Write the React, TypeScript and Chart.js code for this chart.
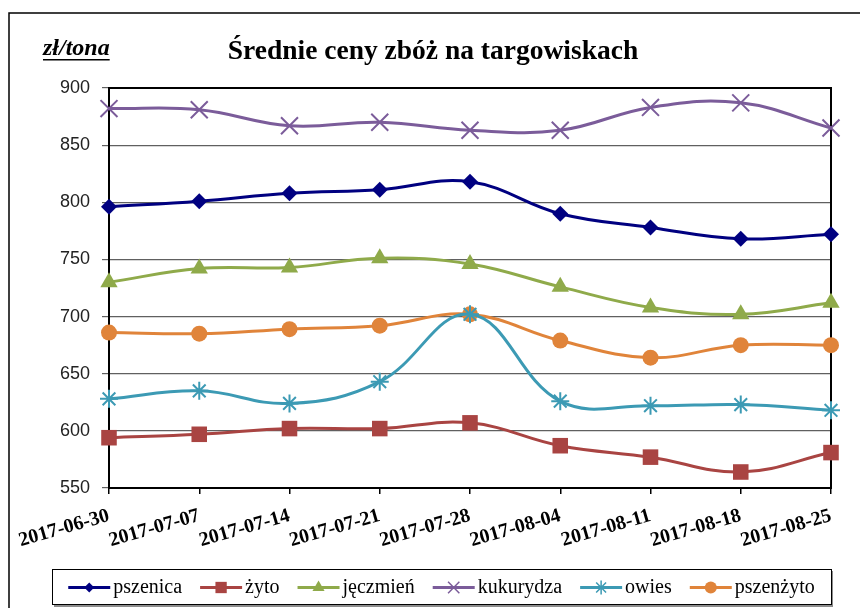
import React, { useEffect, useRef } from "react";
import { Chart, registerables } from "chart.js";

Chart.register(...registerables);

const TITLE = "Średnie ceny zbóż na targowiskach";
const UNIT = "zł/tona";

const dates = [
  "2017-06-30",
  "2017-07-07",
  "2017-07-14",
  "2017-07-21",
  "2017-07-28",
  "2017-08-04",
  "2017-08-11",
  "2017-08-18",
  "2017-08-25",
];

const pszenica = [796, 801, 808, 811, 818, 790, 778, 768, 772];
const zyto = [594, 597, 602, 602, 607, 587, 577, 564, 581];
const jeczmien = [730, 742, 743, 751, 746, 726, 708, 702, 712];
const kukurydza = [882, 881, 867, 870, 863, 863, 883, 887, 865];
const owies = [628, 635, 624, 643, 702, 626, 622, 623, 618];
const pszenzyto = [686, 685, 689, 692, 702, 679, 664, 675, 675];

const seriesNames = ["pszenica", "żyto", "jęczmień", "kukurydza", "owies", "pszenżyto"];
const seriesValues = [pszenica, zyto, jeczmien, kukurydza, owies, pszenzyto];

const Y_MIN = 550;
const Y_MAX = 900;
const Y_STEP = 50;

const SERIF = '"Liberation Serif", "Times New Roman", serif';
const SANS = '"Liberation Sans", Arial, sans-serif';

const styles = [
  { color: "#000080", point: "rectRot", radius: 8, lr: 5 },
  { color: "#A94442", point: "rect", radius: 11, lr: 8 },
  { color: "#8FAA4A", point: "triangle", radius: 10, lr: 7 },
  { color: "#7B5C9A", point: "crossRot", radius: 12, lr: 8 },
  { color: "#3C9AB4", point: "star", radius: 9, lr: 7 },
  { color: "#E0843A", point: "circle", radius: 8, lr: 6 },
];

function drawMarker(ctx: CanvasRenderingContext2D, kind: string, x: number, y: number, r: number, color: string) {
  ctx.save();
  ctx.fillStyle = color;
  ctx.strokeStyle = color;
  ctx.lineWidth = 1.5;
  ctx.beginPath();
  if (kind === "rectRot") {
    ctx.moveTo(x, y - r);
    ctx.lineTo(x + r, y);
    ctx.lineTo(x, y + r);
    ctx.lineTo(x - r, y);
    ctx.closePath();
    ctx.fill();
  } else if (kind === "rect") {
    const s = r * Math.SQRT1_2;
    ctx.rect(x - s, y - s, 2 * s, 2 * s);
    ctx.fill();
  } else if (kind === "triangle") {
    for (let i = 0; i < 3; i++) {
      const a = (i * 2 * Math.PI) / 3;
      const px = x + Math.sin(a) * r;
      const py = y - Math.cos(a) * r;
      if (i === 0) ctx.moveTo(px, py);
      else ctx.lineTo(px, py);
    }
    ctx.closePath();
    ctx.fill();
  } else if (kind === "crossRot" || kind === "star") {
    const d = r * Math.SQRT1_2;
    ctx.moveTo(x - d, y - d);
    ctx.lineTo(x + d, y + d);
    ctx.moveTo(x - d, y + d);
    ctx.lineTo(x + d, y - d);
    if (kind === "star") {
      ctx.moveTo(x, y - r);
      ctx.lineTo(x, y + r);
      ctx.moveTo(x - r, y);
      ctx.lineTo(x + r, y);
    }
    ctx.stroke();
  } else {
    ctx.arc(x, y, r, 0, Math.PI * 2);
    ctx.fill();
  }
  ctx.restore();
}

const decorPlugin = {
  id: "decor",
  beforeDatasetsDraw(chart: any) {
    const { ctx, chartArea } = chart;
    ctx.save();
    ctx.strokeStyle = "#000";
    ctx.lineWidth = 2;
    ctx.strokeRect(chartArea.left, chartArea.top, chartArea.right - chartArea.left, chartArea.bottom - chartArea.top);
    ctx.restore();
  },
  afterDraw(chart: any) {
    const ctx: CanvasRenderingContext2D = chart.ctx;
    ctx.save();
    // outer frame
    ctx.strokeStyle = "#000";
    ctx.lineWidth = 1.5;
    ctx.beginPath();
    ctx.moveTo(9, 608);
    ctx.lineTo(9, 13);
    ctx.lineTo(860, 13);
    ctx.stroke();

    // title
    ctx.fillStyle = "#000";
    ctx.font = `bold 27.5px ${SERIF}`;
    ctx.textAlign = "center";
    ctx.textBaseline = "alphabetic";
    ctx.fillText(TITLE, 433, 59);

    // unit
    ctx.font = `italic bold 24px ${SERIF}`;
    ctx.textAlign = "left";
    ctx.fillText(UNIT, 43, 55);
    const uw = ctx.measureText(UNIT).width;
    ctx.fillRect(43, 59, uw, 1.5);

    // legend
    const boxL = 52, boxT = 569, boxR = 831, boxB = 604;
    ctx.fillStyle = "#8c8c8c";
    ctx.fillRect(boxL + 2, boxB, boxR - boxL, 3);
    ctx.fillRect(boxR, boxT + 2, 2, boxB - boxT);
    ctx.fillStyle = "#fff";
    ctx.fillRect(boxL, boxT, boxR - boxL, boxB - boxT);
    ctx.strokeStyle = "#000";
    ctx.lineWidth = 1;
    ctx.strokeRect(boxL + 0.5, boxT + 0.5, boxR - boxL, boxB - boxT);

    ctx.font = `20px ${SERIF}`;
    const lineLen = 42, textGap = 3, itemGap = 18;
    const widths = seriesNames.map((n) => ctx.measureText(n).width);
    const total = widths.reduce((a, w) => a + w + lineLen + textGap, 0) + itemGap * (seriesNames.length - 1);
    let x = boxL + (boxR - boxL - total) / 2;
    const cy = (boxT + boxB) / 2 + 1;
    seriesNames.forEach((name, i) => {
      const st = styles[i];
      ctx.strokeStyle = st.color;
      ctx.lineWidth = 3;
      ctx.beginPath();
      ctx.moveTo(x, cy);
      ctx.lineTo(x + lineLen, cy);
      ctx.stroke();
      drawMarker(ctx, st.point, x + lineLen / 2, cy, st.lr, st.color);
      ctx.fillStyle = "#000";
      ctx.textAlign = "left";
      ctx.textBaseline = "middle";
      ctx.fillText(name, x + lineLen + textGap, cy);
      x += lineLen + textGap + widths[i] + itemGap;
    });
    ctx.restore();
  },
};

export default function App() {
  const ref = useRef<HTMLCanvasElement | null>(null);

  useEffect(() => {
    if (!ref.current) return;
    const chart = new Chart(ref.current, {
      type: "line",
      data: {
        labels: dates,
        datasets: seriesNames.map((name, i) => ({
          label: name,
          data: seriesValues[i],
          borderColor: styles[i].color,
          backgroundColor: styles[i].color,
          borderWidth: 3,
          tension: 0.4,
          fill: false,
          pointStyle: styles[i].point as any,
          pointRadius: styles[i].radius,
          pointBorderWidth: styles[i].point === "crossRot" || styles[i].point === "star" ? 2 : 0,
          pointBorderColor: styles[i].color,
          pointBackgroundColor: styles[i].color,
        })),
      },
      options: {
        responsive: false,
        animation: false,
        layout: { padding: { left: 0, top: 88, right: 29, bottom: 0 } },
        plugins: {
          legend: { display: false },
          title: { display: false },
          tooltip: { enabled: false },
        },
        scales: {
          x: {
            offset: false,
            afterFit: (s: any) => {
              s.height = 120;
            },
            grid: {
              drawOnChartArea: false,
              tickLength: 6,
              color: "#000",
              lineWidth: 1.5,
            },
            border: { display: true, color: "#000", width: 2 },
            ticks: {
              autoSkip: false,
              minRotation: 16,
              maxRotation: 16,
              padding: 10,
              color: "#000",
              font: { family: SERIF, size: 20, weight: "bold" },
            },
          },
          y: {
            min: Y_MIN,
            max: Y_MAX,
            afterFit: (s: any) => {
              s.width = 109;
            },
            grid: {
              color: "#606060",
              lineWidth: 1.2,
              tickLength: 7,
            },
            border: { display: true, color: "#000", width: 2 },
            ticks: {
              stepSize: Y_STEP,
              padding: 12,
              color: "#222",
              font: { family: SANS, size: 18 },
            },
          },
        },
      },
      plugins: [decorPlugin],
    });
    return () => chart.destroy();
  }, []);

  return (
    <div style={{ position: "absolute", left: 0, top: 0, width: 860, height: 608, background: "#fff" }}>
      <canvas ref={ref} width={860} height={608} style={{ width: 860, height: 608, display: "block" }} />
    </div>
  );
}
